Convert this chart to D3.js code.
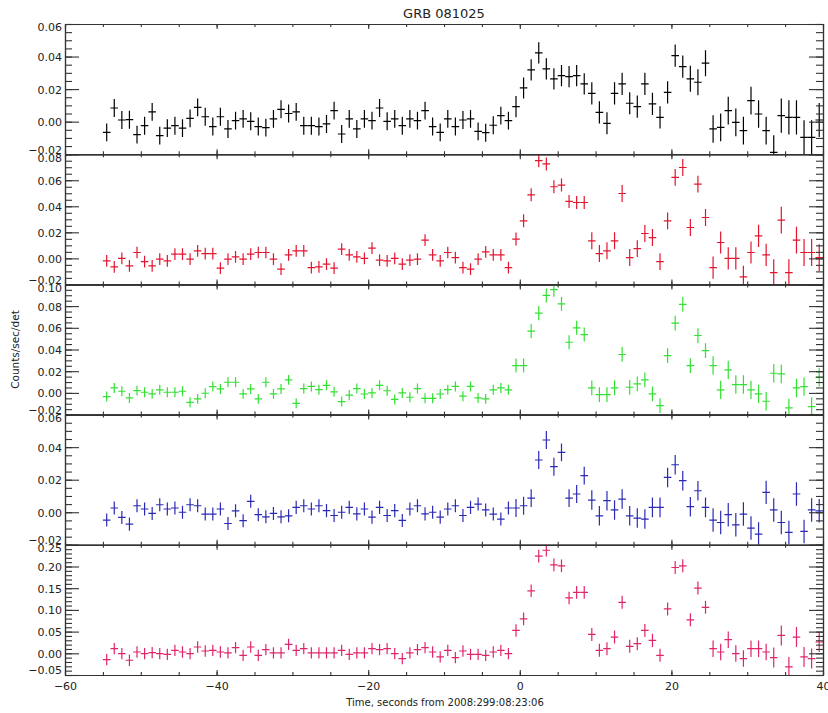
<!DOCTYPE html>
<html><head><meta charset="utf-8">
<script src="https://cdn.jsdelivr.net/npm/d3@7"></script>
<style>
body{margin:0;background:#fff}
svg{display:block}
</style>
</head><body>
<svg id="c" width="828" height="713"></svg>
<script>
// ---- data ----
const title = "GRB 081025";
const xTitle = "Time, seconds from 2008:299:08:23:06";
const yTitle = "Counts/sec/det";
const xTickValues = [-60,-40,-20,0,20,40];
const yTicksA = [-0.02,0.00,0.02,0.04,0.06];
const yTicksB = [-0.02,0.00,0.02,0.04,0.06,0.08];
const yTicksC = [-0.02,0.00,0.02,0.04,0.06,0.08,0.10];
const yTicksD = [-0.05,0.00,0.05,0.10,0.15,0.20,0.25];

const time = [-54.5,-53.5,-52.5,-51.5,-50.5,-49.5,-48.5,-47.5,-46.5,-45.5,
 -44.5,-43.5,-42.5,-41.5,-40.5,-39.5,-38.5,-37.5,-36.5,-35.5,
 -34.5,-33.5,-32.5,-31.5,-30.5,-29.5,-28.5,-27.5,-26.5,-25.5,
 -24.5,-23.5,-22.5,-21.5,-20.5,-19.5,-18.5,-17.5,-16.5,-15.5,
 -14.5,-13.5,-12.5,-11.5,-10.5,-9.5,-8.5,-7.5,-6.5,-5.5,
 -4.5,-3.5,-2.5,-1.5,-0.5,0.5,1.5,2.5,3.5,4.5,
 5.5,6.5,7.5,8.5,9.5,10.5,11.5,12.5,13.5,14.5,
 15.5,16.5,17.5,18.5,19.5,20.5,21.5,22.5,23.5,24.5,
 25.5,26.5,27.5,28.5,29.5,30.5,31.5,32.5,33.5,34.5,
 35.5,36.5,37.5,38.5,39.5];

const blackRate = [-0.0066,0.0084,0.001,0.0012,-0.008,-0.0025,0.006,-0.0086,-0.004,-0.0025,
 -0.004,0.002,0.0088,0.003,-0.003,0.003,-0.0045,0.0006,0.0017,0.0002,
 -0.003,-0.0037,0.0017,0.0076,0.005,0.006,-0.0025,-0.0025,-0.003,-0.0014,
 0.0068,-0.0076,0.0017,-0.0045,0.0017,0.0006,0.0084,0.0002,0.0017,-0.0025,
 0.0017,0.0006,0.0068,-0.003,-0.0066,0.0017,-0.003,0.001,0.0017,-0.006,
 -0.0068,-0.0022,0.0037,0.0006,0.0092,0.0207,0.0318,0.0423,0.0324,0.0263,
 0.0283,0.0277,0.0283,0.0232,0.0174,0.0057,-0.001,0.0174,0.0232,0.0113,
 0.0092,0.0232,0.0109,0.0026,0.018,0.0406,0.0338,0.0263,0.0242,0.0359,
 -0.0045,-0.0035,0.0068,-0.0004,-0.0055,0.0129,0.0047,-0.0055,-0.0189,0.0037,
 0.0026,0.0026,-0.0097,-0.0097,0.001];
const blackErr = [0.0055,0.0055,0.0055,0.0055,0.0055,0.0055,0.0055,0.0055,0.0055,0.0055,
 0.0055,0.0055,0.0055,0.0055,0.0055,0.0055,0.0055,0.0055,0.0055,0.0055,
 0.0055,0.0055,0.0055,0.0055,0.0055,0.0055,0.0055,0.0055,0.0055,0.0055,
 0.0055,0.0055,0.0055,0.0055,0.0055,0.0055,0.0055,0.0055,0.0055,0.0055,
 0.0055,0.0055,0.0055,0.0055,0.0055,0.0055,0.0055,0.0055,0.0055,0.0055,
 0.0055,0.0055,0.0055,0.0055,0.0065,0.0065,0.0065,0.0065,0.0065,0.0065,
 0.0065,0.0065,0.0065,0.0065,0.0068,0.0068,0.0068,0.0068,0.0068,0.0068,
 0.0068,0.0068,0.0068,0.0068,0.0068,0.0068,0.0068,0.008,0.008,0.008,
 0.0085,0.0085,0.0085,0.0085,0.0085,0.0085,0.0085,0.0085,0.0105,0.0105,
 0.0105,0.0105,0.0105,0.0105,0.0105];

const redRate = [-0.002,-0.0065,0.0,-0.0058,0.0045,-0.0025,-0.0058,-0.0006,-0.002,0.0032,
 0.0032,-0.0006,0.0058,0.0037,0.0037,-0.0075,-0.0006,0.0012,-0.0006,0.0032,
 0.0045,0.0045,-0.0006,-0.0083,0.0027,0.0058,0.0058,-0.0071,-0.0065,-0.0045,
 -0.0075,0.0071,0.0027,0.0012,0.0,0.0078,-0.0014,-0.002,0.0,-0.0045,
 -0.0014,-0.0006,0.014,0.0027,-0.002,0.0045,0.0006,-0.0071,-0.0083,-0.0006,
 0.005,0.0027,0.0027,-0.0071,0.0148,0.0288,0.0488,0.075,0.0725,0.055,
 0.0563,0.0437,0.0429,0.0429,0.0135,0.0037,0.0058,0.0135,0.0498,0.0006,
 0.0075,0.0191,0.016,-0.0025,0.0288,0.0622,0.0698,0.0237,0.057,0.0314,
 -0.0071,0.0122,0.0,0.0,-0.0142,0.0045,0.0173,0.0027,-0.0109,0.0294,
 -0.0109,0.014,0.0045,0.0045,0.0006];
const redErr = [0.0045,0.0045,0.0045,0.0045,0.0045,0.0045,0.0045,0.0045,0.0045,0.0045,
 0.0045,0.0045,0.0045,0.0045,0.0045,0.0045,0.0045,0.0045,0.0045,0.0045,
 0.0045,0.0045,0.0045,0.0045,0.0045,0.0045,0.0045,0.0045,0.0045,0.0045,
 0.0045,0.0045,0.0045,0.0045,0.0045,0.0045,0.0045,0.0045,0.0045,0.0045,
 0.0045,0.0045,0.0045,0.0045,0.0045,0.0045,0.0045,0.0045,0.0045,0.0045,
 0.0045,0.0045,0.0045,0.0045,0.005,0.005,0.005,0.005,0.005,0.005,
 0.005,0.005,0.005,0.005,0.0065,0.0065,0.0065,0.0065,0.0065,0.0065,
 0.0065,0.0065,0.0065,0.0065,0.0065,0.0065,0.0065,0.0065,0.0065,0.0065,
 0.0085,0.0085,0.0085,0.0085,0.0085,0.0085,0.0085,0.0085,0.0103,0.0103,
 0.0103,0.0103,0.0103,0.0103,0.0103];

const greenRate = [-0.0034,0.0046,0.0015,-0.0046,0.0021,0.0006,-0.0009,0.0028,0.0006,0.0006,
 0.0015,-0.0087,-0.0055,-0.0003,0.0058,0.0037,0.0098,0.0098,-0.0009,0.0037,
 -0.0055,0.0098,-0.0009,0.0037,0.012,-0.0096,0.004,0.006,0.003,0.007,
 0.001,-0.008,-0.002,0.004,-0.001,0.0,0.007,0.002,-0.006,0.0,
 -0.004,0.004,-0.005,-0.005,-0.001,0.003,0.006,-0.003,0.006,-0.0046,
 -0.0055,0.0028,0.0046,0.0028,0.0252,0.0252,0.0569,0.0735,0.0898,0.0951,
 0.0821,0.0467,0.06,0.0538,0.0046,-0.0016,-0.0016,0.0046,0.0354,0.0052,
 0.0083,0.012,-0.0009,-0.0117,0.0344,0.0643,0.0815,0.0252,0.0529,0.039,
 0.0252,0.0028,0.0212,0.0077,0.0077,0.0028,-0.0009,-0.0077,0.0181,0.0175,
 -0.0138,0.0046,0.0058,-0.0126,0.0144];
const greenErr = [0.0046,0.0046,0.0046,0.0046,0.0046,0.0046,0.0046,0.0046,0.0046,0.0046,
 0.0046,0.0046,0.0046,0.0046,0.0046,0.0046,0.0046,0.0046,0.0046,0.0046,
 0.0046,0.0046,0.0046,0.0046,0.0046,0.0046,0.0046,0.0046,0.0046,0.0046,
 0.0046,0.0046,0.0046,0.0046,0.0046,0.0046,0.0046,0.0046,0.0046,0.0046,
 0.0046,0.0046,0.0046,0.0046,0.0046,0.0046,0.0046,0.0046,0.0046,0.0046,
 0.0046,0.0046,0.0046,0.0046,0.0065,0.0065,0.0065,0.0065,0.0065,0.0065,
 0.0065,0.0065,0.0065,0.0065,0.0068,0.0068,0.0068,0.0068,0.0068,0.0068,
 0.0068,0.0068,0.0068,0.0068,0.0068,0.0068,0.0068,0.0068,0.0068,0.0068,
 0.0085,0.0085,0.0085,0.0085,0.0085,0.0085,0.0085,0.0085,0.0085,0.0085,
 0.0085,0.0085,0.0085,0.0085,0.0085];

const blueRate = [-0.0048,0.0026,-0.0032,-0.0073,0.004,0.002,-0.0007,0.0046,0.002,0.0026,
 0.0,0.0046,0.004,-0.0011,-0.0011,0.002,-0.0069,0.0009,-0.0052,0.0067,
 -0.0015,-0.0028,-0.0007,-0.0028,-0.0022,0.003,0.004,0.002,0.004,0.001,
 -0.002,0.0,0.003,-0.001,0.002,-0.003,0.003,-0.002,0.001,-0.005,
 0.002,0.004,-0.001,0.0,-0.003,0.002,0.004,-0.002,0.003,0.005,
 0.0014,-0.0011,-0.0042,0.0026,0.0026,0.004,0.0087,0.0321,0.0444,0.028,
 0.0368,0.0087,0.0112,0.0225,0.0075,-0.0022,0.0071,0.0014,0.0081,-0.0022,
 -0.0036,-0.0042,0.003,0.003,0.0214,0.0292,0.0194,0.0034,0.0132,0.003,
 -0.0048,-0.0063,-0.0015,-0.0077,-0.0011,-0.0097,-0.0134,0.0122,0.0014,-0.0063,
 -0.0124,0.0112,-0.0118,0.0014,0.0009];
const blueErr = [0.004,0.004,0.004,0.004,0.004,0.004,0.004,0.004,0.004,0.004,
 0.004,0.004,0.004,0.004,0.004,0.004,0.004,0.004,0.004,0.004,
 0.004,0.004,0.004,0.004,0.004,0.004,0.004,0.004,0.004,0.004,
 0.004,0.004,0.004,0.004,0.004,0.004,0.004,0.004,0.004,0.004,
 0.004,0.004,0.004,0.004,0.004,0.004,0.004,0.004,0.004,0.004,
 0.004,0.004,0.004,0.004,0.0055,0.0055,0.0055,0.0055,0.0055,0.0055,
 0.0055,0.0055,0.0055,0.0055,0.006,0.006,0.006,0.006,0.006,0.006,
 0.006,0.006,0.006,0.006,0.006,0.006,0.006,0.006,0.006,0.006,
 0.0072,0.0072,0.0072,0.0072,0.0072,0.0072,0.0072,0.0072,0.0072,0.0072,
 0.0072,0.0072,0.0072,0.0072,0.0072];

const pinkRate = [-0.0145,0.0108,-0.0007,-0.016,0.003,-0.0007,0.0016,-0.0007,-0.0023,0.0069,
 0.003,-0.0007,0.0145,0.0053,0.0069,0.003,0.0008,0.013,-0.0046,0.0145,
 -0.0046,0.0085,0.0008,0.0008,0.0206,0.0069,0.0107,0.0008,0.0008,0.0008,
 0.0008,0.0069,-0.0023,0.0008,0.0008,0.0107,0.0085,0.0107,-0.0007,-0.0122,
 0.0008,0.0085,0.013,0.003,-0.0084,0.0069,-0.0099,0.0053,-0.0023,-0.0023,
 -0.0046,0.003,0.0069,-0.0007,0.0527,0.0794,0.144,0.224,0.2374,0.2038,
 0.2015,0.1275,0.1404,0.1404,0.0435,0.0069,0.0107,0.0374,0.1175,0.016,
 0.0222,0.0527,0.0298,-0.0046,0.1023,0.1977,0.2015,0.0771,0.1504,0.106,
 0.0107,0.003,0.0313,-0.0007,-0.0122,0.0107,0.0107,0.003,-0.0099,0.0412,
 -0.0313,0.0374,-0.0084,-0.0122,0.026];
const pinkErr = [0.013,0.013,0.013,0.013,0.013,0.013,0.013,0.013,0.013,0.013,
 0.013,0.013,0.013,0.013,0.013,0.013,0.013,0.013,0.013,0.013,
 0.013,0.013,0.013,0.013,0.013,0.013,0.013,0.013,0.013,0.013,
 0.013,0.013,0.013,0.013,0.013,0.013,0.013,0.013,0.013,0.013,
 0.013,0.013,0.013,0.013,0.013,0.013,0.013,0.013,0.013,0.013,
 0.013,0.013,0.013,0.013,0.0145,0.0145,0.0145,0.0145,0.0145,0.0145,
 0.0145,0.0145,0.0145,0.0145,0.015,0.015,0.015,0.015,0.015,0.015,
 0.015,0.015,0.015,0.015,0.015,0.015,0.015,0.015,0.015,0.015,
 0.019,0.019,0.019,0.019,0.019,0.019,0.019,0.019,0.023,0.023,
 0.023,0.023,0.023,0.023,0.023];

const binWidth = 1.0;

// ---- drawing ----
const svg = d3.select('#c');
const FONT = '"DejaVu Sans", "Liberation Sans", Arial, sans-serif';
const AX = '#333';
const plotLeft = 65, plotRight = 823, plotTop = 24, panelH = 130.2;

const x = d3.scaleLinear().domain([-60, 40]).range([plotLeft, plotRight]);

const panels = [
  {rate: blackRate, err: blackErr, color: '#000000', domain: [-0.02, 0.06], ticks: yTicksA, minorN: 16},
  {rate: redRate,   err: redErr,   color: '#e3152f', domain: [-0.02, 0.08], ticks: yTicksB, minorN: 20},
  {rate: greenRate, err: greenErr, color: '#33e033', domain: [-0.02, 0.10], ticks: yTicksC, minorN: 24},
  {rate: blueRate,  err: blueErr,  color: '#2a2ab5', domain: [-0.02, 0.06], ticks: yTicksA, minorN: 16},
  {rate: pinkRate,  err: pinkErr,  color: '#e0246c', domain: [-0.05, 0.25], ticks: yTicksD, minorN: 30}
];

const defs = svg.append('defs');
const fmtY = d3.format('.2f');
const fmtX = d3.format('d');

function styleAxis(g) {
  g.attr('font-family', FONT).attr('font-size', 11);
  g.selectAll('path.domain').attr('stroke', AX).attr('stroke-width', 1.2);
  g.selectAll('.tick line').attr('stroke', AX).attr('stroke-width', 1.1);
  g.selectAll('.tick text').attr('fill', '#222');
}

panels.forEach((p, i) => {
  const top = plotTop + i * panelH;
  const bot = top + panelH;
  const y = d3.scaleLinear().domain(p.domain).range([bot, top]);

  defs.append('clipPath').attr('id', 'clip' + i)
    .append('rect').attr('x', plotLeft).attr('y', top)
    .attr('width', plotRight - plotLeft).attr('height', panelH);

  const dg = svg.append('g').attr('clip-path', `url(#clip${i})`)
    .attr('stroke', p.color).attr('stroke-width', 1.2);

  const pts = time.map((t, k) => ({t, v: p.rate[k], e: p.err[k]}));
  dg.selectAll('line.h').data(pts).join('line').attr('class', 'h')
    .attr('x1', d => x(d.t - binWidth / 2)).attr('x2', d => x(d.t + binWidth / 2))
    .attr('y1', d => y(d.v)).attr('y2', d => y(d.v));
  dg.selectAll('line.v').data(pts).join('line').attr('class', 'v')
    .attr('x1', d => x(d.t)).attr('x2', d => x(d.t))
    .attr('y1', d => y(d.v - d.e)).attr('y2', d => y(d.v + d.e));

  const minor = y.ticks(p.minorN);

  // left axis: minor then major with labels
  const lMin = svg.append('g').attr('transform', `translate(${plotLeft},0)`)
    .call(d3.axisLeft(y).tickValues(minor).tickSize(-7).tickSizeOuter(0).tickFormat(''));
  styleAxis(lMin);
  const lMaj = svg.append('g').attr('transform', `translate(${plotLeft},0)`)
    .call(d3.axisLeft(y).tickValues(p.ticks).tickSize(-14).tickSizeOuter(0).tickPadding(3).tickFormat(fmtY));
  styleAxis(lMaj);
  lMaj.selectAll('.tick text').attr('dy', '0.36em')
    .attr('transform', (d) => {
      if (Math.abs(d - p.domain[1]) < 1e-9) return 'translate(0,3)';
      if (Math.abs(d - p.domain[0]) < 1e-9) return 'translate(0,-5)';
      return null;
    });

  // right axis
  const rMin = svg.append('g').attr('transform', `translate(${plotRight},0)`)
    .call(d3.axisRight(y).tickValues(minor).tickSize(-7).tickSizeOuter(0).tickFormat(''));
  styleAxis(rMin);
  const rMaj = svg.append('g').attr('transform', `translate(${plotRight},0)`)
    .call(d3.axisRight(y).tickValues(p.ticks).tickSize(-14).tickSizeOuter(0).tickFormat(''));
  styleAxis(rMaj);

  // top axis
  const tMin = svg.append('g').attr('transform', `translate(0,${top})`)
    .call(d3.axisTop(x).tickValues(x.ticks(20)).tickSize(-3).tickSizeOuter(0).tickFormat(''));
  styleAxis(tMin);
  const tMaj = svg.append('g').attr('transform', `translate(0,${top})`)
    .call(d3.axisTop(x).tickValues(xTickValues).tickSize(-5).tickSizeOuter(0).tickFormat(''));
  styleAxis(tMaj);

  // bottom axis
  const bMin = svg.append('g').attr('transform', `translate(0,${bot})`)
    .call(d3.axisBottom(x).tickValues(x.ticks(20)).tickSize(-3).tickSizeOuter(0).tickFormat(''));
  styleAxis(bMin);
  const isLast = i === panels.length - 1;
  const bMaj = svg.append('g').attr('transform', `translate(0,${bot})`)
    .call(d3.axisBottom(x).tickValues(xTickValues).tickSize(-5).tickSizeOuter(0)
      .tickPadding(7).tickFormat(isLast ? fmtX : ''));
  styleAxis(bMaj);
});

// titles
svg.append('text').attr('x', (plotLeft + plotRight) / 2).attr('y', 18)
  .attr('text-anchor', 'middle').attr('font-family', FONT).attr('font-size', 13)
  .attr('fill', '#222').text(title);
svg.append('text').attr('x', (plotLeft + plotRight) / 2 + 1).attr('y', 706)
  .attr('text-anchor', 'middle').attr('font-family', FONT).attr('font-size', 10)
  .attr('fill', '#222').text(xTitle);
svg.append('text')
  .attr('transform', `translate(19,${plotTop + panelH * 2.5}) rotate(-90)`)
  .attr('text-anchor', 'middle').attr('font-family', FONT).attr('font-size', 10.5)
  .attr('fill', '#222').text(yTitle);
</script>
</body></html>
